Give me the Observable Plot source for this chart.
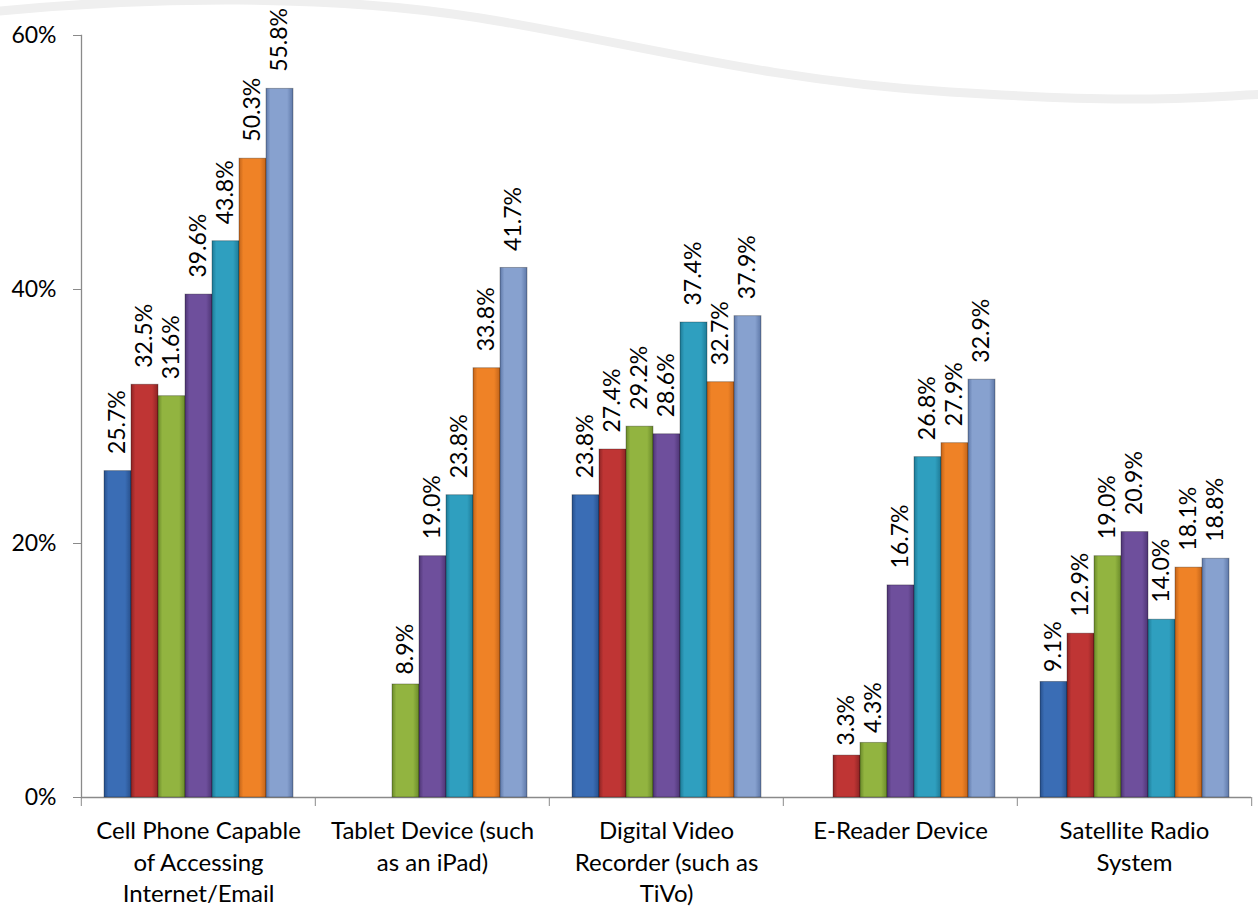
<!DOCTYPE html>
<html>
<head>
<meta charset="utf-8">
<script src="https://cdn.jsdelivr.net/npm/d3@7"></script>
<script src="https://cdn.jsdelivr.net/npm/@observablehq/plot@0.6"></script>
<style>
  html, body { margin: 0; padding: 0; background: #fff; }
  #wrap { position: relative; width: 1258px; height: 910px; overflow: hidden; }
  #deco { position: absolute; left: 0; top: 0; }
  #chart { position: absolute; left: 0; top: 0; }
</style>
</head>
<body>
<div id="wrap">
  <svg id="deco" width="1258" height="910">
    <path d="M -10,12 C 150,-4 330,-6 480,18 S 760,80 950,92 S 1180,98 1270,94" fill="none" stroke="#efefef" stroke-width="9"/>
  </svg>
  <div id="chart"></div>
</div>
<script>
// Categories (x facets)
const categories = [
  "Cell Phone Capable\nof Accessing\nInternet/Email",
  "Tablet Device (such\nas an iPad)",
  "Digital Video\nRecorder (such as\nTiVo)",
  "E-Reader Device",
  "Satellite Radio\nSystem"
];
// Series (one bar per series within each category)
const series = ["Series 1", "Series 2", "Series 3", "Series 4", "Series 5", "Series 6", "Series 7"];
// Values (percent), in category order; null = no bar
const series1 = [25.7, null, 23.8, null, 9.1];
const series2 = [32.5, null, 27.4, 3.3, 12.9];
const series3 = [31.6, 8.9, 29.2, 4.3, 19.0];
const series4 = [39.6, 19.0, 28.6, 16.7, 20.9];
const series5 = [43.8, 23.8, 37.4, 26.8, 14.0];
const series6 = [50.3, 33.8, 32.7, 27.9, 18.1];
const series7 = [55.8, 41.7, 37.9, 32.9, 18.8];
const yTicks = [0, 20, 40, 60];

// Colours: [edge, centre] for each series
const seriesColors = [
  ["#27508c", "#3a6db5"],
  ["#8c2424", "#bf3534"],
  ["#6a8a2a", "#92b440"],
  ["#4e3574", "#6e4f9c"],
  ["#1e7a96", "#2f9fbf"],
  ["#c2641a", "#ef8226"],
  ["#5e78a8", "#87a1cf"]
];

const allValues = [series1, series2, series3, series4, series5, series6, series7];
const data = [];
allValues.forEach((vals, si) => {
  vals.forEach((v, ci) => {
    if (v != null) data.push({category: categories[ci], series: series[si], value: v});
  });
});
const label = d => d.value.toFixed(1) + "%";

const W = 1258, H = 910, mL = 80, mR = 6, mT = 35, mB = 113;
const band = (W - mL - mR) / categories.length;

const chart = Plot.plot({
  width: W,
  height: H,
  marginTop: mT,
  marginBottom: mB,
  marginLeft: mL,
  marginRight: mR,
  style: {fontFamily: "Lato, 'Open Sans', sans-serif", background: "transparent", color: "#000", overflow: "visible"},
  fx: {domain: categories, padding: 0, label: null},
  x: {domain: series, paddingInner: 0, paddingOuter: 0.78, axis: null},
  y: {domain: [0, 60], label: null},
  color: {domain: series, range: series.map((_, i) => `url(#barGrad${i})`)},
  marks: [
    Plot.frame({anchor: "left", facetAnchor: "left", stroke: "#8a8a8a", strokeWidth: 1.3}),
    Plot.ruleY([0], {stroke: "#8a8a8a", strokeWidth: 1.3}),
    Plot.axisY({ticks: yTicks, tickFormat: d => d + "%", tickSize: 8, tickPadding: 17, fontSize: 23, stroke: "#8a8a8a", fill: "#000", label: null}),
    Plot.axisFx({anchor: "bottom", text: null, tickSize: 9, dx: -band / 2, stroke: "#8a8a8a", label: null}),
    Plot.axisFx({anchor: "bottom", ticks: [categories[categories.length - 1]], text: null, tickSize: 9, dx: band / 2, stroke: "#8a8a8a", label: null}),
    Plot.axisFx({anchor: "bottom", tickSize: 0, tickPadding: 19, fontSize: 24, lineHeight: 1.32, fill: "#000", label: null}),
    Plot.barY(data, {fx: "category", x: "series", y: "value", fill: "series", stroke: "#00000050", strokeWidth: 0.9}),
    Plot.text(data.filter(d => d.value >= 10), {fx: "category", x: "series", y: "value", text: label, rotate: -90, textAnchor: "start", dy: -17, fontSize: 23, fill: "#000"}),
    Plot.text(data.filter(d => d.value < 10), {fx: "category", x: "series", y: "value", text: label, rotate: -90, textAnchor: "start", dy: -10, fontSize: 23, fill: "#000"})
  ]
});

const defs = seriesColors.map(([edge, mid], i) => `
  <linearGradient id="barGrad${i}" x1="0" x2="1" y1="0" y2="0">
    <stop offset="0" stop-color="${edge}"/>
    <stop offset="0.16" stop-color="${mid}"/>
    <stop offset="0.78" stop-color="${mid}"/>
    <stop offset="1" stop-color="${edge}"/>
  </linearGradient>`).join("");
chart.insertAdjacentHTML("afterbegin", `<defs>${defs}</defs>`);
document.getElementById("chart").appendChild(chart);
</script>
</body>
</html>
